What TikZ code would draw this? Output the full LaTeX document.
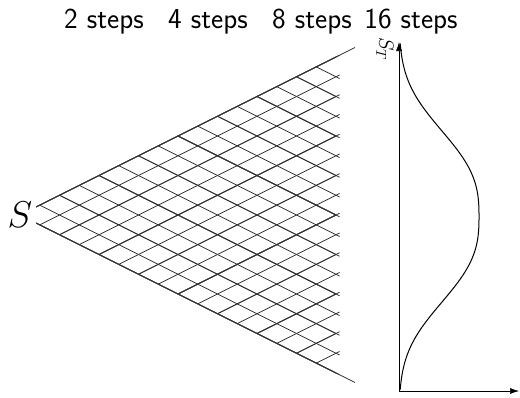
\documentclass[tikz,border=0pt]{standalone}
\usetikzlibrary{arrows.meta}
\begin{document}
\begin{tikzpicture}[x=1pt,y=1pt]
\tikzset{treeline/.style = {draw=black!80, line width=0.8pt}}
\tikzset{lastline/.style = {treeline, shorten >=-4pt}}
\tikzset{axis/.style = {draw=black, line width=0.6pt, -{Latex[length=9pt,width=6pt]}}}
\tikzset{density/.style = {draw=black, line width=1pt}}
\tikzset{steplabel/.style = {anchor=base, inner sep=0pt, font=\sffamily\fontsize{29}{32}\selectfont}}
\tikzset{rootnode/.style = {inner sep=0pt, minimum width=32pt, minimum height=30pt, font=\Huge}}
\useasboundingbox (0,0) rectangle (520,-397);

    \node[steplabel] (lab2) at (104,-28) {2 steps};
    \node[steplabel] (lab4) at (208,-28) {4 steps};
    \node[steplabel] (lab8) at (312,-28) {8 steps};
    \node[steplabel] (lab16) at (411,-28) {16 steps};

    \node[rootnode] (S) at (20,-215) {\scalebox{1.5}{$S$}};

\foreach \nst in {2,4,8,16}{
    \pgfmathsetmacro\dx{316/\nst}
    \foreach \i in {1,...,\nst}{
        \foreach \j in {0,...,\i}{
            \coordinate (t\nst-\i-\j) at ({20+\i*\dx},{-215+(2*\j-\i)*\dx/2});
        }
    }
    \draw[treeline] (S) -- (t\nst-1-0);
    \draw[treeline] (S) -- (t\nst-1-1);
}

\foreach \nst in {2,4,8,16}{
    \pgfmathtruncatemacro\nlast{\nst-1}
    \foreach \i in {1,...,\nlast}{
        \pgfmathtruncatemacro\inext{\i+1}
        \ifnum\inext=16 \def\edge{lastline}\else\def\edge{treeline}\fi
        \foreach \j in {0,...,\i}{
            \pgfmathtruncatemacro\jnext{\j+1}
            \draw[\edge] (t\nst-\i-\j) -- (t\nst-\inext-\j);
            \draw[\edge] (t\nst-\i-\j) -- (t\nst-\inext-\jnext);
        }
    }
}

    \coordinate (topend) at (355,-47.5);
    \coordinate (botend) at (355,-382.5);
    \draw[treeline] (t16-16-16) -- (topend);
    \draw[treeline] (t16-16-0) -- (botend);

    \coordinate (O) at (399,-391);
    \coordinate (ytop) at (399,-42);
    \coordinate (xend) at (519,-391);
    \draw[axis] (O) -- (ytop);
    \draw[axis] (O) -- (xend);
    \node[rotate=-90, inner sep=0pt, font=\huge] (ST) at (385,-49) {$S_T$};

    \draw[density] plot[domain=-173:173, samples=90, smooth] ({399+80*exp(-((abs(\x)+0.01)/102)^2.7)}, {-216.5+\x});
\end{tikzpicture}
\end{document}
